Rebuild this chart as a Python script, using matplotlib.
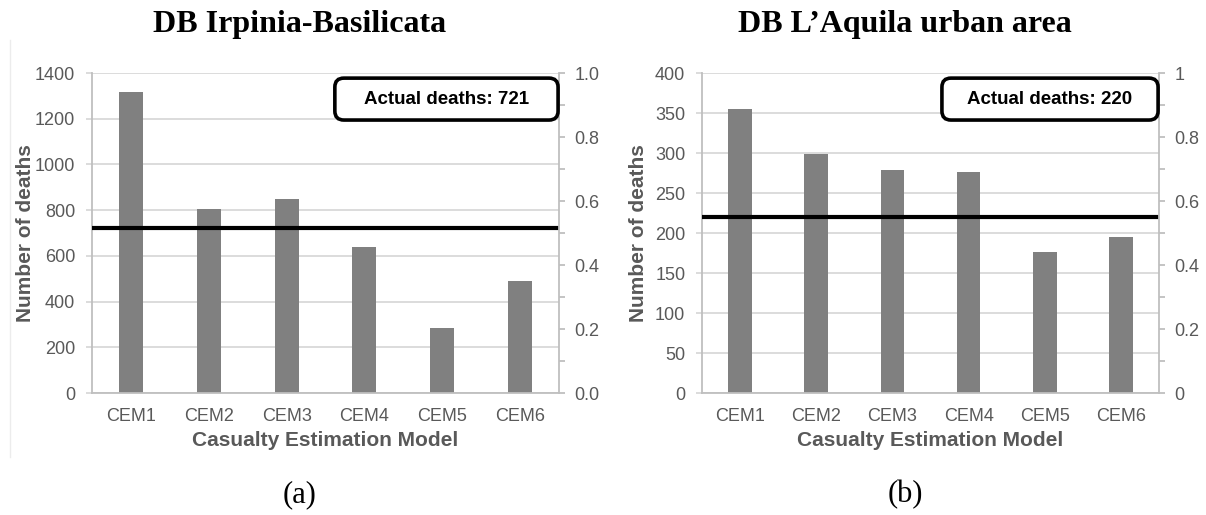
import matplotlib.pyplot as plt
from matplotlib.lines import Line2D
from matplotlib.patches import FancyBboxPatch
from matplotlib.ticker import MultipleLocator, FormatStrFormatter, FuncFormatter

models = ['CEM1', 'CEM2', 'CEM3', 'CEM4', 'CEM5', 'CEM6']
deaths_irpinia = [1315, 805, 848, 640, 283, 490]
deaths_aquila = [355, 299, 279, 276, 176, 195]
actual_irpinia = 721
actual_aquila = 220

plt.rcParams['font.family'] = ['Liberation Sans', 'DejaVu Sans']
grey = '#595959'
light = '#d9d9d9'
axis_grey = '#bfbfbf'

fig = plt.figure(figsize=(12.06, 5.15), dpi=100)


def panel(rect, values, actual, ymax, ystep, rfmt, title, tag, title_x, box_x0, ylab_x):
    ax = fig.add_axes(rect)
    x = range(len(models))
    ax.bar(x, values, width=0.31, color='#808080', zorder=2)
    # actual deaths reference line
    ax.plot([-0.5, len(models) - 0.5], [actual, actual], color='black', lw=3, zorder=3,
            solid_capstyle='butt')
    ax.set_xlim(-0.5, len(models) - 0.5)
    ax.set_ylim(0, ymax)
    ax.yaxis.set_major_locator(MultipleLocator(ystep))
    ax.set_xticks(list(x))
    ax.set_xticklabels(models)
    ax.grid(axis='y', color=light, lw=1.3, zorder=0)
    ax.tick_params(axis='x', length=0, labelsize=13, labelcolor=grey, pad=11)
    ax.tick_params(axis='y', length=4, width=1.3, color=light, labelsize=13,
                   labelcolor=grey, pad=8)
    for s in ['top', 'right']:
        ax.spines[s].set_visible(False)
    for s in ['left', 'bottom']:
        ax.spines[s].set_color(axis_grey)
        ax.spines[s].set_linewidth(1.3)
    ax.set_ylabel('Number of deaths', fontsize=15, fontweight='bold', color=grey)
    ax.yaxis.set_label_coords(ylab_x, 0.5)
    ax.set_xlabel('Casualty Estimation Model', fontsize=15, fontweight='bold', color=grey)
    ax.xaxis.set_label_coords(0.5, -0.119)

    # secondary axis on the right (Excel default 0-1)
    ax2 = ax.twinx()
    ax2.set_ylim(0, 1)
    ax2.yaxis.set_major_locator(MultipleLocator(0.2))
    ax2.yaxis.set_minor_locator(MultipleLocator(0.1))
    ax2.yaxis.set_major_formatter(rfmt)
    ax2.tick_params(axis='y', which='both', direction='out', length=4, width=1.3,
                    color=axis_grey, labelsize=13, labelcolor=grey, pad=7)
    for s in ['top', 'left', 'bottom']:
        ax2.spines[s].set_visible(False)
    ax2.spines['right'].set_color(axis_grey)
    ax2.spines['right'].set_linewidth(1.3)

    # rounded box with the actual number of deaths
    w_px = rect[2] * 1206
    h_px = rect[3] * 515
    y0, y1 = 0.853, 0.984
    box = FancyBboxPatch((box_x0, y0), 0.998 - box_x0, y1 - y0,
                         boxstyle='round,pad=0,rounding_size=%f' % (9 / w_px),
                         mutation_aspect=w_px / h_px, transform=ax.transAxes,
                         fc='white', ec='black', lw=2.6, zorder=6, clip_on=False)
    ax2.add_patch(box)
    ax2.text((box_x0 + 0.998) / 2, (y0 + y1) / 2, 'Actual deaths: %d' % actual,
             transform=ax.transAxes, ha='center', va='center', fontsize=13.5,
             fontweight='bold', color='black', zorder=7)

    fig.text(title_x, 0.953, title, ha='center', va='center', fontsize=23,
             fontweight='bold', family='Liberation Serif')
    fig.text(title_x, 0.040, tag, ha='center', va='center', fontsize=22,
             family='Liberation Serif')
    return ax


def fmt_one(v, pos):
    return '%g' % v


panel([0.07629, 0.23689, 0.38723, 0.62136], deaths_irpinia, actual_irpinia, 1400, 200,
      FormatStrFormatter('%.1f'), 'DB Irpinia-Basilicata', '(a)', 0.2488, 0.52, -0.122)
panel([0.58209, 0.23689, 0.37894, 0.62136], deaths_aquila, actual_aquila, 400, 50,
      FuncFormatter(fmt_one), 'DB L\u2019Aquila urban area', '(b)', 0.7504, 0.525, -0.118)

# faint edge of the left chart area
fig.add_artist(Line2D([10 / 1206, 10 / 1206], [1 - 457 / 515, 1 - 40 / 515],
                      color='#ececec', lw=1))

fig.savefig('out.png', dpi=100)
